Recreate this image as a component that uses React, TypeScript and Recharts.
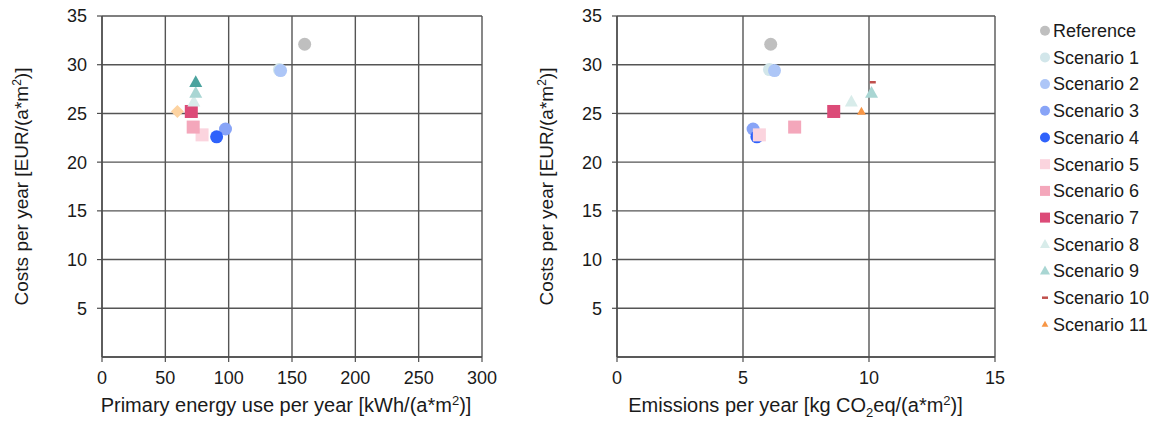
import React from 'react';
import { ScatterChart, Scatter, XAxis, YAxis, CartesianGrid } from 'recharts';

// ---- data ----
const scenarioNames = [
  'Reference', 'Scenario 1', 'Scenario 2', 'Scenario 3', 'Scenario 4', 'Scenario 5',
  'Scenario 6', 'Scenario 7', 'Scenario 8', 'Scenario 9', 'Scenario 10', 'Scenario 11',
];
const costsPerYear = [32.1, 29.5, 29.4, 23.4, 22.6, 22.8, 23.6, 25.2, 26.2, 27.1, 28.2, 25.2];
const primaryEnergyPerYear = [160, 140, 141, 97.5, 90.5, 79, 72, 70.5, 72.5, 74, 74, 59.5];
const emissionsPerYear = [6.1, 6.05, 6.25, 5.4, 5.55, 5.65, 7.05, 8.6, 9.3, 10.1, 10.15, 9.7];

const energyTicks = [0, 50, 100, 150, 200, 250, 300];
const emissionTicks = [0, 5, 10, 15];
const costTicks = [5, 10, 15, 20, 25, 30, 35];

// ---- styles ----
const seriesColors = [
  '#bfbfbf', '#d2e6ea', '#adc6f7', '#88a4f7', '#2f62fb', '#fbd4de',
  '#f4a7bb', '#dc4b78', '#d8ecea', '#a9d6d3', '#c0504d', '#f79646',
];
const seriesMarkers = [
  'circle', 'circle', 'circle', 'circle', 'circle', 'square',
  'square', 'square', 'triangle', 'triangle', 'dash', 'smallTriangle',
];
const leftColors = seriesColors.map((c, i) => (i === 10 ? '#4aa39e' : i === 11 ? '#fdd3a1' : c));
const leftMarkers = seriesMarkers.map((m, i) => (i === 10 ? 'triangle' : i === 11 ? 'diamond' : m));

const FONT = '"Liberation Sans", Arial, sans-serif';
const AXIS = '#4d4d4d';
const GRID = '#555555';
const TEXT = '#1a1a1a';

function drawMarker(kind: string, color: string, cx: number, cy: number, s: number) {
  switch (kind) {
    case 'circle':
      return <circle cx={cx} cy={cy} r={s / 2} fill={color} />;
    case 'square':
      return <rect x={cx - s / 2} y={cy - s / 2} width={s} height={s} fill={color} />;
    case 'triangle':
    case 'smallTriangle': {
      const w = kind === 'triangle' ? s : s * 0.68;
      const h = w * 0.9;
      return (
        <polygon
          points={`${cx},${cy - h * 0.6} ${cx + w / 2},${cy + h * 0.4} ${cx - w / 2},${cy + h * 0.4}`}
          fill={color}
        />
      );
    }
    case 'diamond':
      return (
        <polygon
          points={`${cx},${cy - s / 2} ${cx + s / 2},${cy} ${cx},${cy + s / 2} ${cx - s / 2},${cy}`}
          fill={color}
        />
      );
    case 'dash':
      return <rect x={cx - 3} y={cy - 1.25} width={6} height={2.5} fill={color} />;
    default:
      return null;
  }
}

const tickStyle = { fill: TEXT, fontSize: 18, fontFamily: FONT };

function CostChart(props: {
  xValues: number[];
  xTicks: number[];
  xMax: number;
  colors: string[];
  markers: string[];
  yAxisWidth: number;
  rightMargin: number;
}) {
  const { xValues, xTicks, xMax, colors, markers, yAxisWidth, rightMargin } = props;
  return (
    <ScatterChart
      width={500}
      height={423}
      margin={{ top: 16, right: rightMargin, bottom: 0, left: 0 }}
    >
      <CartesianGrid stroke={GRID} strokeWidth={1.4} />
      <XAxis
        type="number"
        dataKey="x"
        domain={[0, xMax]}
        ticks={xTicks}
        interval={0}
        height={66}
        tick={tickStyle}
        tickSize={5}
        tickMargin={9}
        stroke={AXIS}
        axisLine={{ stroke: AXIS, strokeWidth: 1.4 }}
        tickLine={{ stroke: AXIS, strokeWidth: 1.2 }}
      />
      <YAxis
        type="number"
        dataKey="y"
        domain={[0, 35]}
        ticks={costTicks}
        interval={0}
        width={yAxisWidth}
        tick={tickStyle}
        tickSize={5}
        tickMargin={10}
        stroke={AXIS}
        axisLine={{ stroke: AXIS, strokeWidth: 1.4 }}
        tickLine={{ stroke: AXIS, strokeWidth: 1.2 }}
      />
      {scenarioNames.map((name, i) => (
        <Scatter
          key={name}
          name={name}
          data={[{ x: xValues[i], y: costsPerYear[i] }]}
          fill={colors[i]}
          isAnimationActive={false}
          shape={(p: any) => drawMarker(markers[i], colors[i], p.cx, p.cy, 13)}
        />
      ))}
    </ScatterChart>
  );
}

function YTitle({ cx, cy }: { cx: number; cy: number }) {
  return (
    <text
      x={cx}
      y={cy}
      transform={`rotate(-90, ${cx}, ${cy})`}
      textAnchor="middle"
      dy="0.35em"
      fontFamily={FONT}
      fontSize={19}
      fill={TEXT}
    >
      <tspan>Costs per year [EUR/(a*m</tspan>
      <tspan dy={-7} fontSize={12}>2</tspan>
      <tspan dy={7}>)]</tspan>
    </text>
  );
}

export default function App() {
  return (
    <div style={{ position: 'absolute', left: 0, top: 0, width: 1158, height: 423, background: '#fff' }}>
      <div style={{ position: 'absolute', left: 0, top: 0 }}>
        <CostChart
          xValues={primaryEnergyPerYear}
          xTicks={energyTicks}
          xMax={300}
          colors={leftColors}
          markers={leftMarkers}
          yAxisWidth={102}
          rightMargin={18}
        />
      </div>
      <div style={{ position: 'absolute', left: 510, top: 0 }}>
        <CostChart
          xValues={emissionsPerYear}
          xTicks={emissionTicks}
          xMax={15}
          colors={seriesColors}
          markers={seriesMarkers}
          yAxisWidth={107}
          rightMargin={15}
        />
      </div>
      <svg
        width={1158}
        height={423}
        style={{ position: 'absolute', left: 0, top: 0, pointerEvents: 'none' }}
      >
        <YTitle cx={21} cy={186.5} />
        <YTitle cx={546} cy={186.5} />
        <text x={286} y={412} textAnchor="middle" fontFamily={FONT} fontSize={20} fill={TEXT}>
          <tspan>Primary energy use per year [kWh/(a*m</tspan>
          <tspan dy={-7} fontSize={13}>2</tspan>
          <tspan dy={7}>)]</tspan>
        </text>
        <text x={795.5} y={412} textAnchor="middle" fontFamily={FONT} fontSize={20} fill={TEXT}>
          <tspan>Emissions per year [kg CO</tspan>
          <tspan dy={5} fontSize={13}>2</tspan>
          <tspan dy={-5}>eq/(a*m</tspan>
          <tspan dy={-7} fontSize={13}>2</tspan>
          <tspan dy={7}>)]</tspan>
        </text>
        {scenarioNames.map((name, i) => {
          const cy = 30.7 + i * 26.7;
          return (
            <g key={name}>
              {drawMarker(seriesMarkers[i], seriesColors[i], 1045, cy, 10)}
              <text x={1053} y={cy} dy="0.35em" fontFamily={FONT} fontSize={18} fill={TEXT}>
                {name}
              </text>
            </g>
          );
        })}
      </svg>
    </div>
  );
}
